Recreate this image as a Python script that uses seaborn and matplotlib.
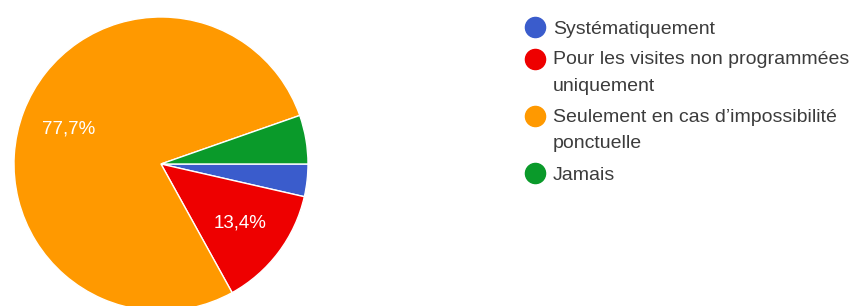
import matplotlib
matplotlib.use("Agg")
import matplotlib.pyplot as plt
import seaborn as sns
from matplotlib.lines import Line2D
from matplotlib.legend_handler import HandlerLine2D
from matplotlib.transforms import Affine2D

categories = [
    "Systématiquement",
    "Pour les visites non programmées\nuniquement",
    "Seulement en cas d\u2019impossibilité\nponctuelle",
    "Jamais",
]
counts = [4, 15, 87, 6]
colors = ["#3a5ccc", "#ee0000", "#ff9900", "#0a9a2a"]

sns.set_theme(style="white")
plt.rcParams["font.family"] = ["Liberation Sans", "DejaVu Sans"]

W, H = 854, 306
fig = plt.figure(figsize=(W / 100, H / 100), dpi=100)
cx, cy, r = 161, 164, 147
ax = fig.add_axes([(cx - r) / W, (H - cy - r) / H, 2 * r / W, 2 * r / H])

palette = sns.color_palette(colors)


def fmt(p):
    return f"{p:.1f}%".replace(".", ",") if p > 8 else ""


wedges, texts, autotexts = ax.pie(
    counts,
    colors=palette,
    startangle=0,
    counterclock=False,
    autopct=fmt,
    pctdistance=0.67,
    wedgeprops=dict(edgecolor="white", linewidth=1),
    textprops=dict(color="white", fontsize=13.5),
)
ax.set_xlim(-1, 1)
ax.set_ylim(-1, 1)
ax.set_aspect("equal")


class TopAlignedHandler(HandlerLine2D):
    """Marker aligned with the first line of a multi-line label."""

    def __init__(self, dy_px=0.0, **kw):
        super().__init__(**kw)
        self.dy_px = dy_px

    def create_artists(self, legend, orig_handle, xdescent, ydescent,
                       width, height, fontsize, trans):
        shifted = trans + Affine2D().translate(0, self.dy_px)
        arts = super().create_artists(legend, orig_handle, xdescent, ydescent,
                                      width, height, fontsize, shifted)
        return arts


handles = [
    Line2D([0], [0], marker="o", linestyle="", markersize=14.5,
           markerfacecolor=c, markeredgecolor=c)
    for c in palette
]
LINE_PX = 27.5
handler_map = {
    h: TopAlignedHandler(dy_px=(lab.count("\n")) * LINE_PX / 2)
    for h, lab in zip(handles, categories)
}
leg = fig.legend(
    handles, categories,
    loc="upper left",
    bbox_to_anchor=(525.3 / W, 1 - 20 / H),
    frameon=False,
    fontsize=14,
    handlelength=1.0,
    handletextpad=0.42,
    borderpad=0,
    borderaxespad=0,
    labelspacing=0.70,
    handler_map=handler_map,
)
for t in leg.get_texts():
    t.set_color("#3c3c3c")
    t.set_linespacing(1.75)

fig.savefig("out.png", dpi=100)
